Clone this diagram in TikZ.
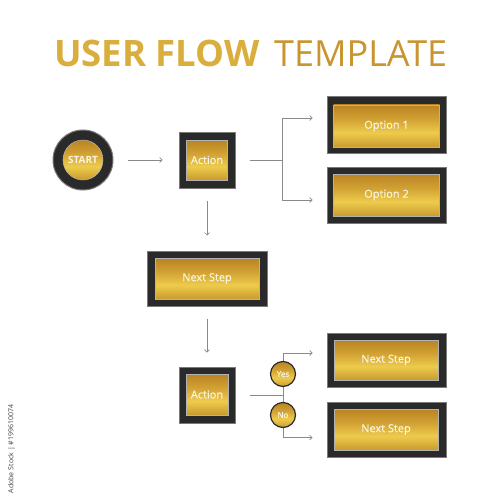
\documentclass[tikz,border=0pt]{standalone}
\usepackage{fontspec}
\setmainfont{Open Sans}
\newfontfamily\labelfont[FakeBold=0.4]{Open Sans}
\usetikzlibrary{arrows.meta,calc}
\definecolor{gtop}{HTML}{B98322}
\definecolor{gmid}{HTML}{D2A234}
\definecolor{glight}{HTML}{EDCB4C}
\definecolor{gbot}{HTML}{C99A2E}
\definecolor{frame}{HTML}{2A2A2A}
\definecolor{framedge}{HTML}{7A7A7A}
\definecolor{linegray}{HTML}{8A8A8A}
\definecolor{labelc}{HTML}{FBF4DE}
\definecolor{titleA}{HTML}{DAAE3C}
\definecolor{titleB}{HTML}{C99530}
\pgfdeclareverticalshading{goldv}{100bp}{color(0bp)=(gbot); color(25bp)=(gbot); color(42bp)=(glight); color(58bp)=(gmid); color(75bp)=(gtop); color(100bp)=(gtop)}
\tikzset{
  outerbox/.style={rectangle, fill=frame, draw=framedge, line width=1pt, inner sep=0pt},
  innerbox/.style={rectangle, shading=goldv, draw=gray!60, line width=0.6pt, inner sep=0pt,
    text=labelc, font=\labelfont\fontsize{11}{12}\selectfont},
  conn/.style={draw=linegray, line width=0.6pt},
  arr/.style={conn, -{Straight Barb[length=2.5pt,width=5pt,line width=0.6pt]}},
  decision/.style={circle, shading=goldv, draw=frame, line width=1.2pt, minimum size=25pt, inner sep=0pt,
    text=labelc, font=\labelfont\fontsize{8}{9}\selectfont},
}
\begin{document}
\begin{tikzpicture}[x=1pt,y=-1pt]
\useasboundingbox[fill=white] (0,0) rectangle (500,500);
% title
\node[anchor=base west, inner sep=0pt, text=titleA, font=\fontsize{36.5}{42}\selectfont\bfseries] (t1) at (54,67) {USER FLOW};
\node[anchor=base west, inner sep=0pt, text=titleB, font=\fontsize{36}{42}\selectfont] (t2) at (274,67) {TEMPLATE};
% start
\node[circle, fill=frame, draw=framedge, line width=1pt, minimum size=60pt, inner sep=0pt] (start) at (83,160) {};
\node[circle, shading=goldv, draw=gray!60, line width=0.5pt, minimum size=40pt, inner sep=0pt, text=labelc,
  font=\fontsize{10}{11}\selectfont\bfseries] (startin) at (83,160) {START};
% action 1
\node[outerbox, minimum width=56pt, minimum height=56pt] (a1) at (207,160) {};
\node[innerbox, minimum width=41pt, minimum height=40pt] (a1in) at (207,160) {Action};
% options
\node[outerbox, minimum width=119pt, minimum height=56pt] (o1) at (386.5,125) {};
\node[innerbox, minimum width=106pt, minimum height=42pt] (o1in) at (386.5,126) {Option 1};
\node[outerbox, minimum width=119pt, minimum height=56pt] (o2) at (386.5,195) {};
\node[innerbox, minimum width=106pt, minimum height=42pt] (o2in) at (386.5,195) {Option 2};
% next step
\node[outerbox, minimum width=120pt, minimum height=55pt] (ns) at (207,278.5) {};
\node[innerbox, minimum width=104pt, minimum height=41pt] (nsin) at (207,278.5) {Next Step};
% action 2
\node[outerbox, minimum width=56pt, minimum height=56pt] (a2) at (207,395) {};
\node[innerbox, minimum width=42pt, minimum height=41pt] (a2in) at (207,394.5) {Action};
% right next steps
\node[outerbox, minimum width=119pt, minimum height=54pt] (n2) at (386.5,360) {};
\node[innerbox, minimum width=104pt, minimum height=40pt] (n2in) at (386,360) {Next Step};
\node[outerbox, minimum width=119pt, minimum height=55pt] (n3) at (386.5,429.5) {};
\node[innerbox, minimum width=104pt, minimum height=41pt] (n3in) at (386,429.5) {Next Step};
% connectors
\coordinate (j1) at (282,160);
\coordinate (j2) at (283,395);
\draw[arr, shorten <=14pt, shorten >=16pt] (start) -- (a1);
\draw[arr, shorten <=12pt, shorten >=15pt] (a1) -- (ns);
\draw[arr, shorten <=12pt, shorten >=14pt] (ns) -- (a2);
\draw[conn, shorten <=14pt] (a1.east) -- (j1);
\draw[arr, shorten >=14pt] (j1) |- ([yshift=7pt]o1.west);
\draw[arr, shorten >=14pt] (j1) |- ([yshift=-5pt]o2.west);
\draw[conn, shorten <=14pt] (a2.east) -- (j2);
\draw[arr, shorten >=14pt] (j2) |- ([yshift=7pt]n2.west);
\draw[arr, shorten >=14pt] (j2) |- ([yshift=-8pt]n3.west);
% decisions
\node[decision] (yes) at (283,374) {Yes};
\node[decision] (no) at (283,415) {No};
% side text
\node[rotate=90, inner sep=0pt, text=black!75, font=\fontsize{7}{8}\selectfont] (wm) at (11.5,449) {Adobe Stock | \#199610074};
\end{tikzpicture}
\end{document}
